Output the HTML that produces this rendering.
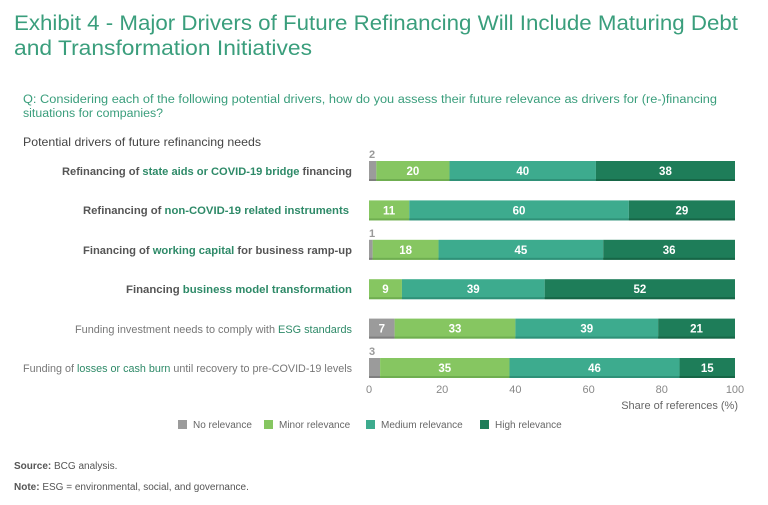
<!DOCTYPE html>
<html><head><meta charset="utf-8"><style>
body{margin:0;background:#fff;}
svg{display:block;font-family:"Liberation Sans",sans-serif;}
</style></head><body>
<svg width="768" height="505" viewBox="0 0 768 505">
<text x="14" y="30" font-size="21" fill="#3a9e7c" textLength="724" lengthAdjust="spacingAndGlyphs">Exhibit 4 - Major Drivers of Future Refinancing Will Include Maturing Debt</text>
<text x="14" y="55" font-size="21" fill="#3a9e7c" textLength="298" lengthAdjust="spacingAndGlyphs">and Transformation Initiatives</text>
<text x="23" y="103" font-size="11.5" fill="#3a9e7c" textLength="694" lengthAdjust="spacingAndGlyphs">Q: Considering each of the following potential drivers, how do you assess their future relevance as drivers for (re-)financing</text>
<text x="23" y="117" font-size="11.5" fill="#3a9e7c" textLength="140" lengthAdjust="spacingAndGlyphs">situations for companies?</text>
<text x="23" y="146" font-size="12" fill="#444" textLength="238" lengthAdjust="spacingAndGlyphs">Potential drivers of future refinancing needs</text>
<g id="labels" font-size="11" text-anchor="end">
<text x="352" y="175" font-weight="bold" fill="#555" textLength="290" lengthAdjust="spacingAndGlyphs">Refinancing of <tspan fill="#2e8a68">state aids or COVID-19 bridge</tspan> financing</text>
<text x="349" y="214" font-weight="bold" fill="#555" textLength="266" lengthAdjust="spacingAndGlyphs">Refinancing of <tspan fill="#2e8a68">non-COVID-19 related instruments</tspan></text>
<text x="352" y="254" font-weight="bold" fill="#555" textLength="269" lengthAdjust="spacingAndGlyphs">Financing of <tspan fill="#2e8a68">working capital</tspan> for business ramp-up</text>
<text x="352" y="293" font-weight="bold" fill="#555" textLength="226" lengthAdjust="spacingAndGlyphs">Financing <tspan fill="#2e8a68">business model transformation</tspan></text>
<text x="352" y="333" fill="#777" textLength="277" lengthAdjust="spacingAndGlyphs">Funding investment needs to comply with <tspan fill="#2e8a68">ESG standards</tspan></text>
<text x="352" y="372" fill="#777" textLength="329" lengthAdjust="spacingAndGlyphs">Funding of <tspan fill="#2e8a68">losses or cash burn</tspan> until recovery to pre-COVID-19 levels</text>
</g>
<g id="bars"></g>
<g id="axis"></g>
<text x="738" y="409" font-size="11" fill="#666" text-anchor="end">Share of references (%)</text>
<g id="legend"></g>
<text x="14" y="469" font-size="10" fill="#555"><tspan font-weight="bold">Source:</tspan> BCG analysis.</text>
<text x="14" y="490" font-size="10" fill="#555"><tspan font-weight="bold">Note:</tspan> ESG = environmental, social, and governance.</text>
</svg>
<script>
const categories=["state-aids","non-covid","working-capital","business-model","esg","losses"];
const noRelevance=[2,0,1,0,7,3];
const minorRelevance=[20,11,18,9,33,35];
const mediumRelevance=[40,60,45,39,39,46];
const highRelevance=[38,29,36,52,21,15];
const ticks=[0,20,40,60,80,100];
const seriesNames=["No relevance","Minor relevance","Medium relevance","High relevance"];
const colors=["#9b9b9b","#86c661","#3dab8e","#1e7d59"];
const dark=["#7f7f7f","#6fae50","#2f9178","#166646"];
const NS="http://www.w3.org/2000/svg";
const x0=369,x1=735,rowTop=161,rowStep=39.4,barH=20;
const xs=v=>x0+(x1-x0)*v/100;
function mk(tag,attrs,parent){const e=document.createElementNS(NS,tag);for(const k in attrs)e.setAttribute(k,attrs[k]);parent.appendChild(e);return e;}
const bars=document.getElementById('bars');
const series=[noRelevance,minorRelevance,mediumRelevance,highRelevance];
categories.forEach((c,i)=>{
  const y=rowTop+i*rowStep;
  const total=series.reduce((s,a)=>s+a[i],0);
  let acc=0;
  series.forEach((arr,j)=>{
    const v=arr[i]; if(!v) return;
    const xa=xs(acc/total*100), xb=xs((acc+v)/total*100);
    const r=mk('rect',{x:xa,y:y,width:xb-xa,height:barH,fill:colors[j]},bars);
    
    
    mk('rect',{x:xa,y:y+barH-2,width:xb-xa,height:2,fill:dark[j]},bars);
    if(j===0 && v<5){
      const t=mk('text',{x:x0,y:y-3,'font-size':11,'font-weight':'bold',fill:'#999'},bars);
      t.textContent=v;
    } else {
      const t=mk('text',{x:(xa+xb)/2,y:y+14,'font-size':11.5,'font-weight':'bold',fill:'#fff','text-anchor':'middle'},bars);
      t.textContent=v;
      
      
    }
    acc+=v;
  });
});
const axis=document.getElementById('axis');
ticks.forEach(t=>{
  const e=mk('text',{x:xs(t),y:393,'font-size':11,fill:'#888','text-anchor':'middle'},axis);
  e.textContent=t;
  
  
});
const legend=document.getElementById('legend');
const lx=[178,264,366,480];
seriesNames.forEach((n,j)=>{
  mk('rect',{x:lx[j],y:420,width:9,height:9,fill:colors[j]},legend);
  const t=mk('text',{x:lx[j]+15,y:428,'font-size':10,fill:'#666'},legend);
  t.textContent=n;
  
  
});
</script>
</body></html>
